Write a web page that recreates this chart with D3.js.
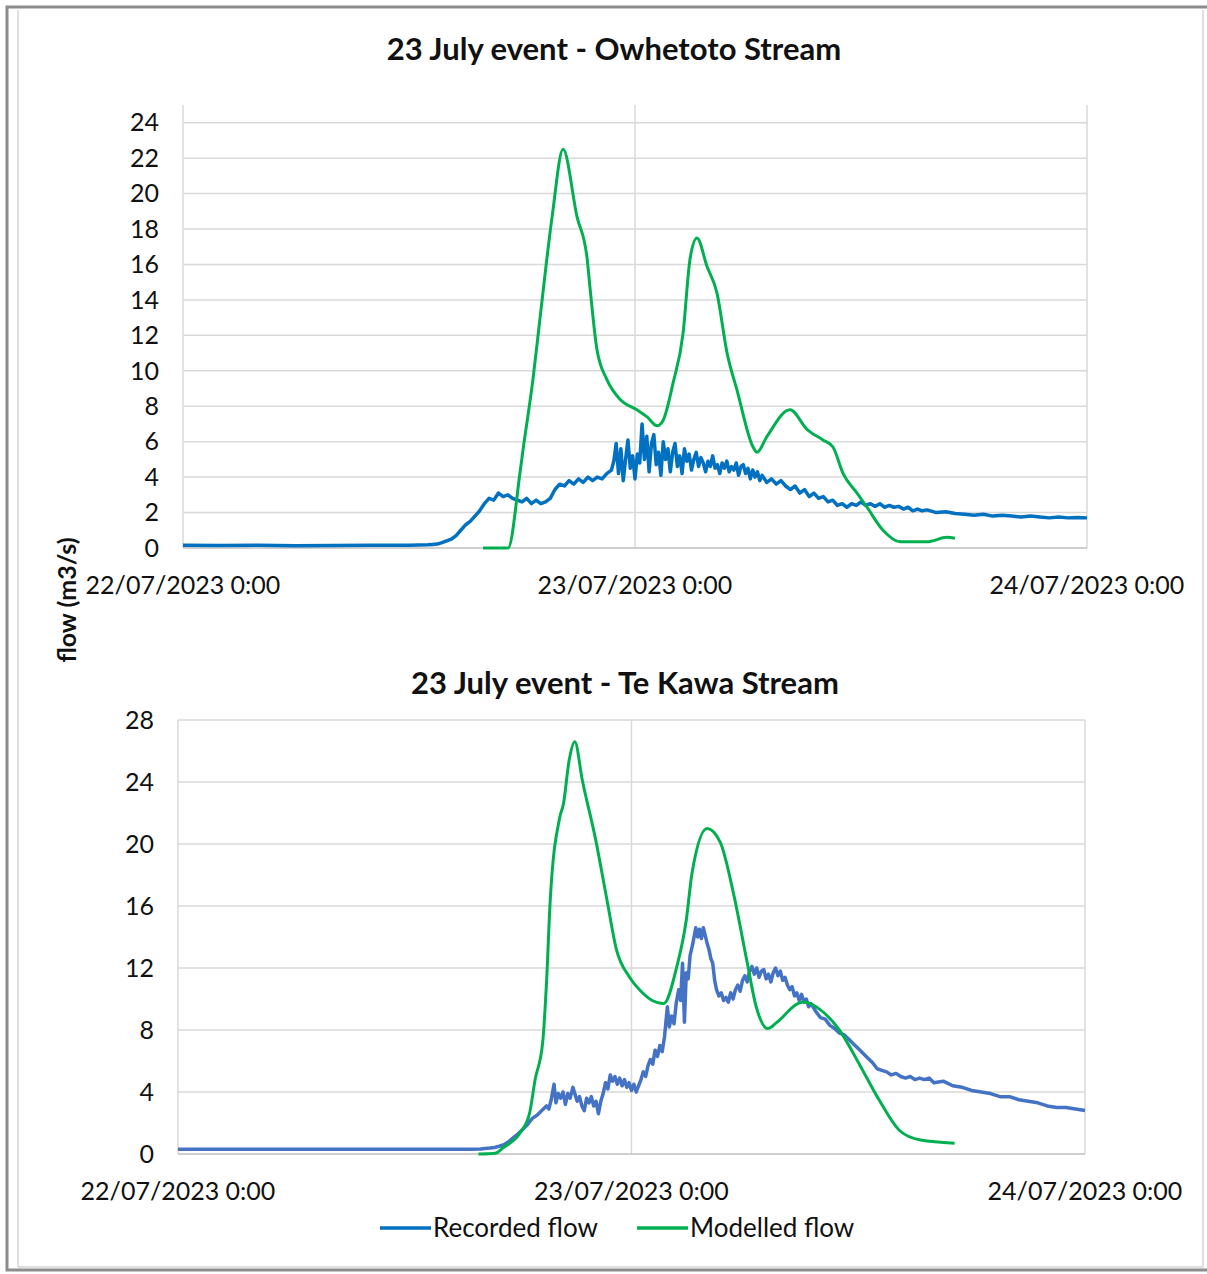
<!DOCTYPE html>
<html>
<head>
<meta charset="utf-8">
<script src="https://cdn.jsdelivr.net/npm/d3@7"></script>
<style>
  body { margin: 0; background: #fff; }
  svg { display: block; font-family: Lato, "Open Sans", sans-serif; }
</style>
</head>
<body>
<svg id="chart" width="1207" height="1274"></svg>
<script>
// hours since 22/07/2023 0:00
var tickHours = [0, 24, 48];
var tickLabels = ["22/07/2023 0:00", "23/07/2023 0:00", "24/07/2023 0:00"];
var seriesNames = ["Recorded flow", "Modelled flow"];

// Owhetoto Stream - recorded [hour, m3/s]
var owhetotoRecorded = [
  [0,0.15],[2,0.14],[4,0.15],[6,0.13],[8,0.14],[10,0.15],[12,0.16],
  [13,0.18],[13.25,0.2],[13.5,0.22],[13.75,0.3],[14,0.4],[14.25,0.5],[14.5,0.7],[14.75,1.0],
  [15,1.3],[15.25,1.5],[15.5,1.8],[15.75,2.1],[16,2.5],[16.25,2.8],[16.5,2.7],[16.75,3.1],
  [17,2.9],[17.25,3.0],[17.5,2.8],[17.75,2.7],[18,2.6],[18.25,2.8],[18.5,2.5],[18.75,2.7],
  [19,2.5],[19.25,2.6],[19.5,2.8],[19.75,3.3],[20,3.6],[20.25,3.5],[20.5,3.8],[20.75,3.6],
  [21,3.9],[21.25,3.7],[21.5,4.0],[21.75,3.8],[22,4.0],[22.25,3.9],[22.5,4.2],[22.75,4.4],
  [22.875,4.9],[23,5.9],[23.125,4.2],[23.25,5.6],[23.375,3.8],[23.5,5.0],[23.625,6.1],[23.75,4.5],
  [23.875,5.2],[24,3.9],[24.125,5.3],[24.25,4.8],[24.375,7.0],[24.5,5.0],[24.625,6.3],[24.75,4.3],
  [24.875,5.9],[25,6.4],[25.125,4.7],[25.25,5.4],[25.375,4.1],[25.5,6.0],[25.625,5.0],[25.75,5.6],
  [25.875,4.3],[26,5.4],[26.125,5.9],[26.25,4.6],[26.375,5.2],[26.5,4.2],[26.625,5.6],[26.75,4.9],
  [26.875,5.3],[27,4.4],[27.125,5.0],[27.25,5.4],[27.375,4.6],[27.5,5.1],[27.625,4.8],[27.75,4.3],
  [27.875,4.9],[28,4.6],[28.125,5.2],[28.25,4.5],[28.375,4.7],[28.5,4.2],[28.625,4.8],[28.75,4.5],
  [28.875,4.9],[29,4.3],[29.125,4.6],[29.25,4.4],[29.375,4.8],[29.5,4.1],[29.625,4.6],[29.75,4.7],
  [29.875,4.2],[30,4.5],[30.125,3.9],[30.25,4.4],[30.375,4.0],[30.5,4.3],[30.625,3.8],[30.75,4.1],
  [31,3.7],[31.25,3.9],[31.5,3.6],[31.75,3.8],[32,3.5],[32.25,3.3],[32.5,3.5],[32.75,3.1],
  [33,3.3],[33.25,2.9],[33.5,3.1],[33.75,2.8],[34,2.9],[34.25,2.6],[34.5,2.7],[34.75,2.4],
  [35,2.5],[35.25,2.3],[35.5,2.5],[35.75,2.4],[36,2.6],[36.25,2.4],[36.5,2.5],[36.75,2.35],
  [37,2.5],[37.25,2.3],[37.5,2.4],[37.75,2.3],[38,2.35],[38.25,2.2],[38.5,2.3],[38.75,2.1],
  [39,2.2],[39.25,2.1],[39.5,2.15],[40,2.0],[40.5,2.05],[41,1.95],[41.5,1.9],[42,1.85],
  [42.5,1.9],[43,1.8],[43.5,1.85],[44,1.8],[44.5,1.75],[45,1.8],[45.5,1.75],[46,1.7],
  [46.5,1.75],[47,1.7],[47.5,1.72],[48,1.7]
];

// Owhetoto Stream - modelled
var owhetotoModelled = [
  [15.93,0],[17.26,0],[17.9,4.3],[18.05,5.5],[18.58,9.5],[18.96,13],[19.6,18.7],[20.18,22.5],
  [20.92,18.7],[21.45,16.4],[21.61,14.7],[21.98,11.2],[22.51,9.5],[23.2,8.4],[24.1,7.8],
  [24.64,7.4],[25.17,6.9],[25.49,7.2],[26.02,9.3],[26.55,12.1],[26.92,16.3],[27.29,17.5],
  [27.82,15.9],[28.35,14.4],[28.89,11],[29.42,8.9],[30.27,5.7],[30.48,5.4],[31.01,6.3],
  [32.23,7.8],[33.13,6.7],[33.98,6.1],[34.51,5.7],[35.05,4.2],[35.79,3.1],[36.32,2.3],
  [37.17,1.0],[38.07,0.35],[39.5,0.35],[40.57,0.6],[40.99,0.55]
];

// Te Kawa Stream - recorded
var teKawaRecorded = [
  [0,0.3],[4,0.3],[8,0.3],[12,0.3],[15.5,0.3],[16,0.32],[16.25,0.35],[16.5,0.38],[16.75,0.42],
  [17,0.5],[17.25,0.6],[17.5,0.8],[17.75,1.05],[18,1.3],[18.25,1.6],[18.5,1.9],[18.75,2.3],
  [19,2.5],[19.25,2.8],[19.5,3.1],[19.625,2.9],[19.75,3.5],[19.9,4.5],[20,3.3],[20.125,3.9],
  [20.25,3.6],[20.375,4.0],[20.5,3.2],[20.625,3.9],[20.75,3.6],[20.9,4.3],[21,3.9],[21.125,3.4],
  [21.25,3.7],[21.375,3.1],[21.5,2.8],[21.625,3.6],[21.75,3.3],[21.875,3.7],[22,3.1],[22.125,3.4],
  [22.25,2.6],[22.375,3.4],[22.5,3.9],[22.625,4.6],[22.75,4.2],[22.875,5.1],[23,4.7],[23.125,5.0],
  [23.25,4.5],[23.375,4.9],[23.5,4.4],[23.625,4.8],[23.75,4.3],[23.875,4.6],[24,4.1],[24.125,4.5],
  [24.25,4.0],[24.375,4.4],[24.5,4.8],[24.625,5.3],[24.75,5.0],[24.875,5.7],[25,6.1],[25.125,5.8],
  [25.25,6.7],[25.375,6.3],[25.5,7.0],[25.625,6.6],[25.75,7.6],[25.9,9.5],[26,8.2],[26.125,8.9],
  [26.25,8.4],[26.375,9.8],[26.5,10.6],[26.6,9.9],[26.7,12.3],[26.8,8.5],[26.9,11.7],[27,11.3],
  [27.1,12.8],[27.25,13.6],[27.4,14.6],[27.5,14.0],[27.6,14.5],[27.7,13.9],[27.8,14.6],[27.9,14.1],
  [28,13.6],[28.1,13.2],[28.2,12.6],[28.3,12.3],[28.4,11.2],[28.5,10.6],[28.625,10.2],[28.75,10.4],
  [28.875,9.9],[29,10.1],[29.125,9.8],[29.25,10.4],[29.375,10.0],[29.5,10.6],[29.625,10.9],[29.75,10.5],
  [29.875,11.2],[30,11.5],[30.125,11.1],[30.25,11.8],[30.375,12.1],[30.5,11.6],[30.625,12.0],[30.75,11.4],
  [30.875,11.8],[31,11.9],[31.125,11.3],[31.25,11.6],[31.375,11.1],[31.5,11.7],[31.625,12.0],[31.75,11.5],
  [31.875,11.8],[32,11.2],[32.125,11.4],[32.25,10.9],[32.375,10.6],[32.5,10.8],[32.625,10.2],[32.75,10.4],
  [32.875,9.9],[33,10.3],[33.125,9.8],[33.25,10.0],[33.375,9.5],[33.5,9.7],[33.75,9.2],[34,8.8],
  [34.25,8.7],[34.5,8.3],[34.75,8.1],[35,7.8],[35.25,7.7],[35.5,7.4],[35.75,7.1],[36,6.8],
  [36.25,6.5],[36.5,6.2],[36.75,5.9],[37,5.5],[37.25,5.4],[37.5,5.3],[37.75,5.1],[38,5.2],
  [38.25,5.0],[38.5,4.9],[38.75,5.0],[39,4.8],[39.25,4.9],[39.5,4.8],[39.75,4.9],[40,4.6],
  [40.5,4.7],[41,4.4],[41.5,4.3],[42,4.1],[42.5,4.0],[43,3.9],[43.5,3.7],[44,3.7],
  [44.5,3.5],[45,3.4],[45.5,3.3],[46,3.1],[46.5,3.0],[47,3.0],[47.5,2.9],[48,2.8]
];

// Te Kawa Stream - modelled
var teKawaModelled = [
  [15.9,0],[16.8,0.05],[17.2,0.4],[18.1,1.35],[18.6,2.6],[18.9,4.8],[19.3,7.2],[19.5,11],
  [19.7,16.4],[20.2,21.7],[20.4,22.6],[20.7,25.4],[21.0,26.6],[21.4,24.1],[22.1,20.3],
  [22.7,16.4],[23.2,13.2],[23.9,11.4],[24.5,10.5],[25.1,9.9],[25.7,9.7],[26.4,12.1],
  [26.9,15.1],[27.2,18.1],[28.0,21.0],[28.7,20.1],[29.4,16.8],[30.1,12.5],[30.6,9.5],
  [31.2,8.1],[31.7,8.5],[32.8,9.7],[33.1,9.8],[34.0,9.3],[35.0,8.0],[36.1,5.7],[37.1,3.5],
  [38.2,1.5],[39.3,0.9],[41.1,0.7]
];

var svg = d3.select("#chart");

// outer frame like the pasted picture
svg.append("path").attr("d", "M1207,7 H7 V1270 H1207").attr("fill", "none")
   .attr("stroke", "#8c8c8c").attr("stroke-width", 3);
svg.append("path").attr("d", "M1203,10 V1267 H18 V10").attr("fill", "none")
   .attr("stroke", "#bfbfbf").attr("stroke-width", 1);

function drawPanel(cfg)
{
    var x = d3.scaleLinear().domain([0, 48]).range([cfg.left, cfg.right]);
    var y = d3.scaleLinear().domain([0, cfg.ymax]).range([cfg.bottom, cfg.top]);
    var g = svg.append("g");

    // horizontal grid
    g.selectAll(".hg").data(cfg.yticks.filter(function(d){return d>0;})).enter().append("line")
      .attr("x1", cfg.left).attr("x2", cfg.right)
      .attr("y1", function(d){return y(d);}).attr("y2", function(d){return y(d);})
      .attr("stroke", "#d9d9d9").attr("stroke-width", 1.5);
    // vertical grid at day ticks
    g.selectAll(".vg").data(tickHours).enter().append("line")
      .attr("x1", function(d){return x(d);}).attr("x2", function(d){return x(d);})
      .attr("y1", cfg.top).attr("y2", cfg.bottom)
      .attr("stroke", "#d9d9d9").attr("stroke-width", 1.5);
    // x axis line
    g.append("line").attr("x1", cfg.left).attr("x2", cfg.right)
      .attr("y1", cfg.bottom).attr("y2", cfg.bottom)
      .attr("stroke", "#bfbfbf").attr("stroke-width", 1.5);

    // y tick labels
    g.selectAll(".yl").data(cfg.yticks).enter().append("text")
      .attr("x", cfg.left - 24).attr("y", function(d){return y(d);})
      .attr("dy", "0.35em").attr("text-anchor", "end")
      .attr("font-size", 25).attr("fill", "#111")
      .text(function(d){return d;});

    // x tick labels
    g.selectAll(".xl").data(tickHours).enter().append("text")
      .attr("x", function(d){return x(d);}).attr("y", cfg.bottom + 37)
      .attr("dy", "0.35em").attr("text-anchor", "middle")
      .attr("font-size", 25).attr("fill", "#111")
      .text(function(d, i){return tickLabels[i];});

    // title
    g.append("text").attr("x", cfg.titleX).attr("y", cfg.titleY)
      .attr("dy", "0.35em").attr("text-anchor", "middle")
      .attr("font-size", 31).attr("font-weight", "bold").attr("fill", "#111")
      .text(cfg.title);

    var line = d3.line()
      .x(function(d){return x(d[0]);})
      .y(function(d){return y(d[1]);});

    g.append("path").datum(cfg.recorded).attr("d", line.curve(d3.curveLinear))
      .attr("fill", "none").attr("stroke", cfg.recColor).attr("stroke-width", 3.5)
      .attr("stroke-linejoin", "round");
    g.append("path").datum(cfg.modelled).attr("d", line.curve(d3.curveMonotoneX))
      .attr("fill", "none").attr("stroke", "#00b050").attr("stroke-width", 3)
      .attr("stroke-linejoin", "round");
}

drawPanel({
    left: 183, right: 1087, top: 105, bottom: 548, ymax: 25,
    yticks: d3.range(0, 25, 2),
    title: "23 July event - Owhetoto Stream", titleX: 614, titleY: 49,
    recorded: owhetotoRecorded, modelled: owhetotoModelled, recColor: "#0070c0"
});
drawPanel({
    left: 178, right: 1085, top: 720, bottom: 1154, ymax: 28,
    yticks: d3.range(0, 29, 4),
    title: "23 July event - Te Kawa Stream", titleX: 625, titleY: 683,
    recorded: teKawaRecorded, modelled: teKawaModelled, recColor: "#4472c4"
});

// y axis title
svg.append("text").attr("transform", "translate(67,600) rotate(-90)")
   .attr("dy", "0.35em").attr("text-anchor", "middle")
   .attr("font-size", 25).attr("font-weight", "bold").attr("fill", "#111")
   .text("flow (m3/s)");

// legend
var legendColors = ["#0070c0", "#00b050"];
var legendX = [380, 637];
var lg = svg.selectAll(".lg").data(seriesNames).enter().append("g")
   .attr("transform", function(d, i){return "translate(" + legendX[i] + ",1228)";});
lg.append("line").attr("x1", 0).attr("x2", 51).attr("y1", 0).attr("y2", 0)
   .attr("stroke", function(d, i){return legendColors[i];}).attr("stroke-width", 3.5);
lg.append("text").attr("x", 53).attr("dy", "0.35em").attr("font-size", 26)
   .attr("fill", "#111").text(function(d){return d;});
</script>
</body>
</html>
